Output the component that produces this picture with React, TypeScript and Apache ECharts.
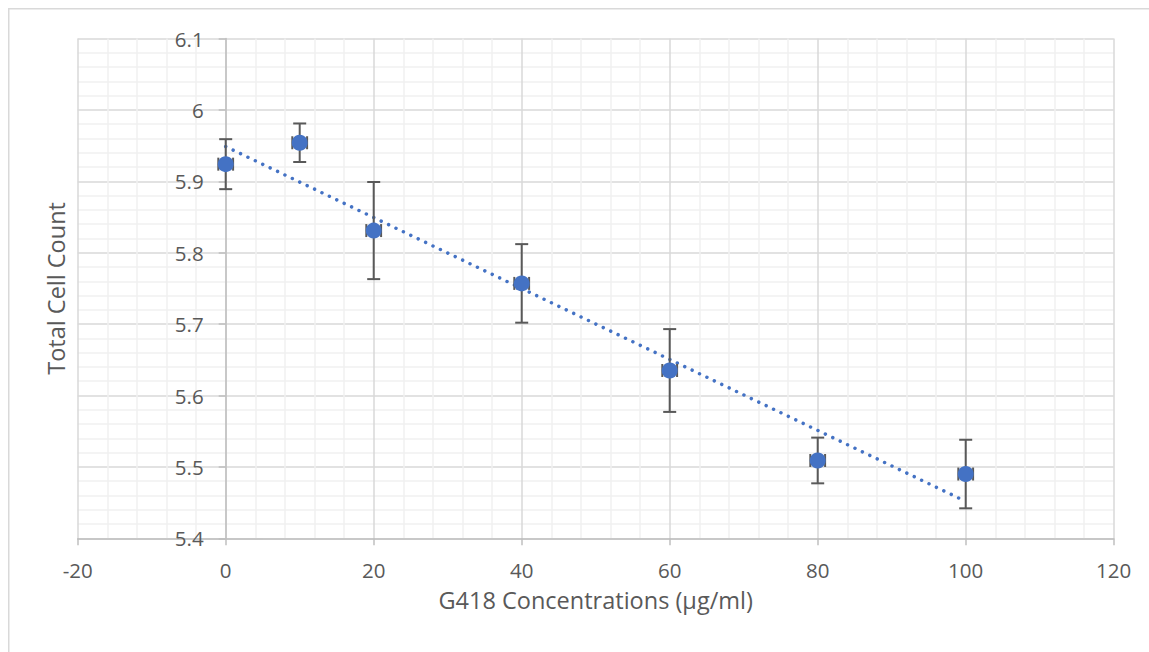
import React, { useEffect, useRef } from "react";
import * as echarts from "echarts";

const concentrations = [0, 10, 20, 40, 60, 80, 100];
const cellCounts = [5.924, 5.954, 5.831, 5.757, 5.635, 5.509, 5.49];
const yErrors = [0.035, 0.027, 0.068, 0.055, 0.058, 0.032, 0.048];
const xErrors = [1, 1, 1, 1, 1, 1, 1];
const xTitle = "G418 Concentrations (µg/ml)";
const yTitle = "Total Cell Count";

const FONT = "'Open Sans', 'Liberation Sans', sans-serif";
const TEXT_COLOR = "#595959";
const BLUE = "#4472C4";

const X_MIN = -20;
const X_MAX = 120;
const GRID_LEFT = 69.7;
const GRID_RIGHT = 35.3;
const CHART_W = 1141;
const CHART_H = 644;

function linearFit(xs: number[], ys: number[]) {
  const n = xs.length;
  const mx = xs.reduce((a, b) => a + b, 0) / n;
  const my = ys.reduce((a, b) => a + b, 0) / n;
  let sxy = 0;
  let sxx = 0;
  for (let i = 0; i < n; i++) {
    sxy += (xs[i] - mx) * (ys[i] - my);
    sxx += (xs[i] - mx) * (xs[i] - mx);
  }
  const slope = sxy / sxx;
  return { slope, intercept: my - slope * mx };
}

export default function App() {
  const ref = useRef<HTMLDivElement>(null);

  useEffect(() => {
    if (!ref.current) return;
    const chart = echarts.init(ref.current, undefined, { renderer: "svg" });
    const fit = linearFit(concentrations, cellCounts);
    const xMin = concentrations[0];
    const xMax = concentrations[concentrations.length - 1];
    const trend = [
      [xMin, fit.intercept + fit.slope * xMin],
      [xMax, fit.intercept + fit.slope * xMax],
    ];
    const points = concentrations.map((x, i) => [x, cellCounts[i]]);
    const errData = concentrations.map((x, i) => [x, cellCounts[i], yErrors[i], xErrors[i]]);
    // y axis crosses the x axis at 0 (Excel style): shift it to x = 0
    const gridW = CHART_W - GRID_LEFT - GRID_RIGHT;
    const yAxisOffset = -((0 - X_MIN) / (X_MAX - X_MIN)) * gridW;

    chart.setOption({
      animation: false,
      backgroundColor: "#ffffff",
      textStyle: { fontFamily: FONT },
      graphic: [
        {
          type: "rect",
          shape: { x: 0.75, y: 0.75, width: 3000, height: 3000 },
          style: { fill: "none", stroke: "#d9d9d9", lineWidth: 1.5 },
          silent: true,
          z: -10,
        },
      ],
      grid: {
        left: GRID_LEFT,
        top: 30.5,
        right: GRID_RIGHT,
        bottom: 113.7,
        containLabel: false,
        outerBoundsMode: "none",
      },
      xAxis: {
        type: "value",
        min: X_MIN,
        max: X_MAX,
        interval: 20,
        name: xTitle,
        nameLocation: "middle",
        nameGap: 50,
        nameTextStyle: { fontSize: 23.5, color: TEXT_COLOR, fontFamily: FONT },
        axisLine: { onZero: false, lineStyle: { color: "#bfbfbf", width: 1.5 } },
        axisTick: { show: true, inside: false, length: 7, lineStyle: { color: "#bfbfbf", width: 1.5 } },
        axisLabel: { fontSize: 20.5, color: TEXT_COLOR, margin: 21, fontFamily: FONT },
        splitLine: { show: true, lineStyle: { color: "#d9d9d9", width: 1.5 } },
        minorTick: { show: false, splitNumber: 5 },
        minorSplitLine: { show: true, lineStyle: { color: "#f0f0f0", width: 1.5 } },
      },
      yAxis: {
        type: "value",
        min: 5.4,
        max: 6.1,
        interval: 0.1,
        offset: yAxisOffset,
        name: yTitle,
        nameLocation: "middle",
        nameGap: 158,
        nameTextStyle: { fontSize: 23.5, color: TEXT_COLOR, fontFamily: FONT },
        axisLine: { show: true, onZero: false, lineStyle: { color: "#bfbfbf", width: 1.5 } },
        axisTick: { show: true, inside: false, length: 7, lineStyle: { color: "#bfbfbf", width: 1.5 } },
        axisLabel: { fontSize: 20.5, color: TEXT_COLOR, margin: 22, fontFamily: FONT },
        splitLine: { show: true, lineStyle: { color: "#d9d9d9", width: 1.5 } },
        minorTick: { show: false, splitNumber: 5 },
        minorSplitLine: { show: true, lineStyle: { color: "#f0f0f0", width: 1.5 } },
      },
      series: [
        {
          name: "Trendline",
          type: "line",
          data: trend,
          symbol: "none",
          z: 1,
          lineStyle: { color: BLUE, width: 3.5, type: [0.01, 8.2], cap: "round" },
          silent: true,
        },
        {
          name: "Error bars",
          type: "custom",
          z: 2,
          clip: false,
          encode: { x: 0, y: 1 },
          data: errData,
          renderItem: (params: any, api: any) => {
            const x = api.value(0);
            const y = api.value(1);
            const ey = api.value(2);
            const ex = api.value(3);
            const top = api.coord([x, y + ey]);
            const bot = api.coord([x, y - ey]);
            const left = api.coord([x - ex, y]);
            const right = api.coord([x + ex, y]);
            const cap = 6.5;
            const style = { stroke: "#595959", lineWidth: 2, fill: "none" };
            return {
              type: "group",
              children: [
                { type: "line", shape: { x1: top[0], y1: top[1], x2: bot[0], y2: bot[1] }, style },
                { type: "line", shape: { x1: top[0] - cap, y1: top[1], x2: top[0] + cap, y2: top[1] }, style },
                { type: "line", shape: { x1: bot[0] - cap, y1: bot[1], x2: bot[0] + cap, y2: bot[1] }, style },
                { type: "line", shape: { x1: left[0], y1: left[1], x2: right[0], y2: right[1] }, style },
                { type: "line", shape: { x1: left[0], y1: left[1] - cap, x2: left[0], y2: left[1] + cap }, style },
                { type: "line", shape: { x1: right[0], y1: right[1] - cap, x2: right[0], y2: right[1] + cap }, style },
              ],
            };
          },
        },
        {
          name: "Total Cell Count",
          type: "scatter",
          z: 3,
          data: points,
          symbol: "circle",
          symbolSize: 16,
          itemStyle: { color: BLUE, opacity: 1 },
        },
      ],
    });
    return () => chart.dispose();
  }, []);

  return (
    <div
      ref={ref}
      style={{ position: "fixed", left: 8, top: 8, width: CHART_W, height: CHART_H }}
    />
  );
}
